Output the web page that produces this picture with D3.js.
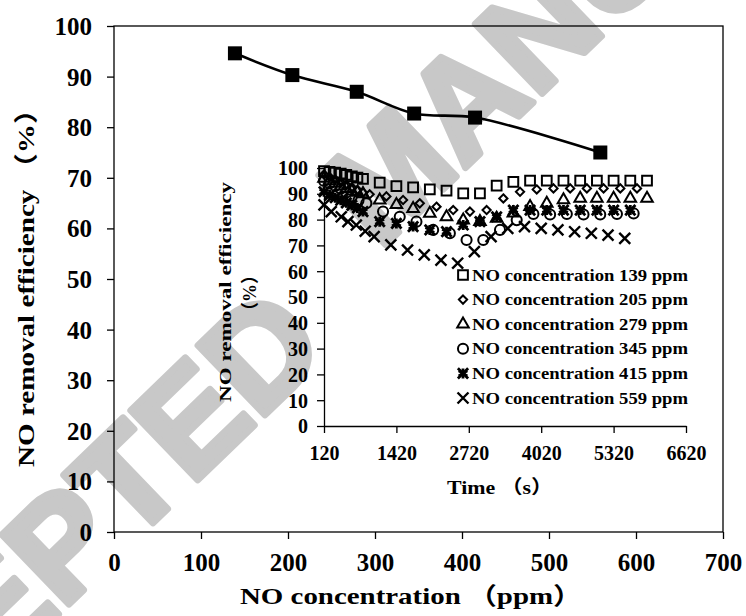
<!DOCTYPE html>
<html>
<head>
<meta charset="utf-8">
<script src="https://cdn.jsdelivr.net/npm/d3@7"></script>
<style>
body{margin:0;background:#fff;}
text{font-family:"Liberation Serif","Noto Sans CJK SC",serif;font-weight:bold;fill:#000;}
</style>
</head>
<body>
<div id="chart"></div>
<script>
var w = 746;
var h = 616;

// main chart: removal efficiency vs NO concentration
var mainConc = [139, 205, 279, 345, 415, 559];
var mainEff = [94.6, 90.3, 87.0, 82.7, 81.9, 75.0];
var mainXTicks = [0, 100, 200, 300, 400, 500, 600, 700];
var mainYTicks = [0, 10, 20, 30, 40, 50, 60, 70, 80, 90, 100];

// inset: efficiency vs time for each concentration
var t139 = [120,220,320,420,520,620,720,820,1120,1420,1720,2020,2320,2620,2920,3220,3520,3820,4120,4420,4720,5020,5320,5620,5920];
var v139 = [98.8,98.5,98.2,97.8,97.3,96.8,96.3,95.8,94.3,93.0,92.5,91.7,91.2,90.2,90.2,93.2,94.6,95.1,95.1,95.1,95.1,95.1,95.1,95.1,95.1];
var t205 = [120,220,320,420,520,620,720,820,940,1240,1540,1840,2140,2440,2740,3040,3340,3640,3940,4240,4540,4840,5140,5440,5740];
var v205 = [97.5,96.5,95.5,94.5,93.5,92.5,91.5,90.5,89.8,89.0,87.6,86.3,85.0,83.7,83.1,83.7,88.2,90.8,91.7,92.1,92.1,92.1,92.1,92.1,92.1];
var t279 = [120,220,320,420,520,620,720,820,1120,1420,1720,2020,2320,2620,2920,3220,3520,3820,4120,4420,4720,5020,5320,5620,5920];
var v279 = [96.0,95.0,94.0,93.0,92.0,91.0,90.5,90.0,87.5,85.8,84.2,82.4,81.0,79.8,79.2,80.5,82.5,85.0,86.3,87.6,88.2,88.2,88.2,88.2,88.2];
var t345 = [120,220,320,420,520,620,740,880,1180,1480,1780,2080,2380,2680,2980,3280,3580,3880,4180,4480,4780,5080,5380,5680];
var v345 = [95.0,94.0,93.0,92.0,90.5,89.0,87.5,86.3,83.1,81.1,79.2,76.0,74.7,72.1,72.1,76.0,79.8,82.2,82.0,82.2,82.0,82.0,82.2,82.4];
var t415 = [120,220,320,420,520,620,720,820,1120,1420,1720,2020,2320,2620,2920,3220,3520,3820,4120,4420,4720,5020,5320,5620];
var v415 = [90.8,89.5,88.5,87.5,86.5,85.5,84.5,83.1,79.2,78.5,77.3,76.0,75.3,77.9,79.2,81.1,83.7,83.7,83.7,83.7,83.7,83.7,83.7,83.7];
var t559 = [120,250,430,550,700,860,1020,1320,1620,1920,2220,2520,2820,3120,3420,3720,4020,4320,4620,4920,5220,5520];
var v559 = [85.7,83.1,81.1,79.2,77.9,75.5,73.4,70.2,68.2,66.3,64.3,63.1,67.6,73.4,76.6,77.3,76.6,76.0,75.3,74.7,74.0,72.7];
var insetXTicks = [120, 1420, 2720, 4020, 5320, 6620];
var insetYTicks = [0, 10, 20, 30, 40, 50, 60, 70, 80, 90, 100];
var seriesNames = ["NO concentration 139 ppm","NO concentration 205 ppm","NO concentration 279 ppm",
	"NO concentration 345 ppm","NO concentration 415 ppm","NO concentration 559 ppm"];
var seriesShapes = ["square","diamond","triangle","circle","star","cross"];

var series = [[t139,v139],[t205,v205],[t279,v279],[t345,v345],[t415,v415],[t559,v559]].map(function(s,i){
	return {name: seriesNames[i], shape: seriesShapes[i],
		pts: s[0].map(function(t,j){return {t:t, v:s[1][j]};})};
});

var svg = d3.select("#chart")
	.append("svg")
	.attr("width", w)
	.attr("height", h)
	.style("display","block");

// watermark behind everything, one text per word
var wm = [["ACCEPTED", -223, 886], ["MANUSCRIPT", 379, 251]];
svg.selectAll(".wm")
	.data(wm)
	.enter().append("text")
	.attr("class","wm")
	.attr("transform",function(d){return "translate("+d[1]+","+d[2]+") rotate(-44)"})
	.style("font-family","'Liberation Sans',Arial,sans-serif")
	.style("font-size","140px")
	.style("fill","#c8c8c8")
	.style("stroke","#c8c8c8")
	.style("stroke-width",7)
	.style("stroke-linejoin","round")
	.text(function(d){return d[0]});

// ---------- main chart ----------
var x = d3.scaleLinear().domain([0,700]).range([114,723]);
var y = d3.scaleLinear().domain([0,100]).range([532,26]);

svg.append("rect")
	.attr("x",114).attr("y",26)
	.attr("width",723-114).attr("height",532-26)
	.style("fill","none").style("stroke","#000").style("stroke-width",1.3);

var xAxis = svg.append("g")
	.attr("transform","translate(0,532)")
	.call(d3.axisBottom(x).tickValues(mainXTicks).tickSize(7).tickPadding(14));
var yAxis = svg.append("g")
	.attr("transform","translate(114,0)")
	.call(d3.axisLeft(y).tickValues(mainYTicks).tickSize(7).tickPadding(15));
[xAxis,yAxis].forEach(function(a){
	a.select(".domain").remove();
	a.selectAll("line").style("stroke","#000").style("stroke-width",1.3);
	a.selectAll("text").style("font-size","25px").style("fill","#000")
		.style("font-family","'Liberation Serif',serif");
});
yAxis.selectAll("text").attr("dy","0.34em");

var mainData = mainConc.map(function(c,i){return {c:c, e:mainEff[i]};});

svg.append("path")
	.datum(mainData)
	.attr("d", d3.line().curve(d3.curveCatmullRom.alpha(0.5))
		.x(function(d){return x(d.c)}).y(function(d){return y(d.e)}))
	.style("fill","none").style("stroke","#000").style("stroke-width",2.6);

svg.selectAll(".mainpt")
	.data(mainData)
	.enter().append("rect")
	.attr("class","mainpt")
	.attr("x",function(d){return x(d.c)-7})
	.attr("y",function(d){return y(d.e)-7})
	.attr("width",14).attr("height",14)
	.style("fill","#000");

svg.append("text")
	.attr("x",240).attr("y",604)
	.attr("textLength",342).attr("lengthAdjust","spacingAndGlyphs")
	.style("font-size","24px")
	.text("NO concentration （ppm）");

svg.append("text")
	.attr("transform","translate(34,467) rotate(-90)")
	.attr("textLength",372).attr("lengthAdjust","spacingAndGlyphs")
	.style("font-size","24px")
	.text("NO removal efficiency （%）");

// ---------- inset ----------
var ix = d3.scaleLinear().domain([120,6620]).range([324,686]);
var iy = d3.scaleLinear().domain([0,100]).range([426,168]);

var ixAxis = svg.append("g")
	.attr("transform","translate(0,426)")
	.call(d3.axisBottom(ix).tickValues(insetXTicks).tickFormat(d3.format("d"))
		.tickSize(7).tickPadding(13).tickSizeOuter(0));
var iyAxis = svg.append("g")
	.attr("transform","translate(324,0)")
	.call(d3.axisLeft(iy).tickValues(insetYTicks).tickSize(7).tickPadding(9).tickSizeOuter(0));
[ixAxis,iyAxis].forEach(function(a){
	a.select(".domain").style("stroke","#000").style("stroke-width",1.3);
	a.selectAll("line").style("stroke","#000").style("stroke-width",1.3);
	a.selectAll("text").style("font-size","20px").style("fill","#000")
		.style("font-family","'Liberation Serif',serif");
});
iyAxis.selectAll("text").attr("dy","0.34em");

// square-ish diamond like the spreadsheet marker
var diamondType = {draw: function(ctx, size){
	var r = Math.sqrt(size/2);
	ctx.moveTo(0,-r); ctx.lineTo(r,0); ctx.lineTo(0,r); ctx.lineTo(-r,0); ctx.closePath();
}};

var sym = {
	square: d3.symbol().type(d3.symbolSquare).size(95),
	diamond: d3.symbol().type(diamondType).size(34),
	triangle: d3.symbol().type(d3.symbolTriangle).size(58),
	circle: d3.symbol().type(d3.symbolCircle).size(80),
	star: d3.symbol().type(d3.symbolAsterisk).size(70),
	cross: d3.symbol().type(d3.symbolTimes).size(80)
};
var symWidth = {square:2, diamond:2, triangle:2, circle:2, star:2.8, cross:2.4};

function drawMarker(g, shape){
	g.append("path")
		.attr("d", sym[shape]())
		.style("fill", shape=="star" ? "#000" : "none")
		.style("stroke","#000")
		.style("stroke-width", symWidth[shape]);
	if(shape=="star"){
		g.append("path").attr("d", d3.symbol().type(d3.symbolTimes).size(70)())
			.style("stroke","#000").style("stroke-width",2.8);
	}
}

series.forEach(function(s){
	svg.append("g").selectAll("g")
		.data(s.pts)
		.enter().append("g")
		.attr("transform",function(d){return "translate("+ix(d.t)+","+iy(d.v)+")"})
		.each(function(){drawMarker(d3.select(this), s.shape);});
});

// legend
var legend = svg.append("g").selectAll("g")
	.data(series)
	.enter().append("g")
	.attr("transform",function(d,i){return "translate(463,"+(275+i*24.6)+")"});
legend.each(function(d){drawMarker(d3.select(this), d.shape);});
legend.append("text")
	.attr("x",9).attr("y",5.5)
	.attr("textLength",216).attr("lengthAdjust","spacingAndGlyphs")
	.style("font-size","17px")
	.text(function(d){return d.name});

svg.append("text")
	.attr("transform","translate(231,402) rotate(-90)")
	.attr("textLength",220).attr("lengthAdjust","spacingAndGlyphs")
	.style("font-size","17px")
	.text("NO removal efficiency");
svg.append("text")
	.attr("transform","translate(256,293) rotate(-90)")
	.attr("text-anchor","middle")
	.style("font-size","18px")
	.text("（%）");

svg.append("text")
	.attr("x",447).attr("y",494)
	.attr("textLength",106).attr("lengthAdjust","spacingAndGlyphs")
	.style("font-size","19px")
	.text("Time （s）");
</script>
</body>
</html>
